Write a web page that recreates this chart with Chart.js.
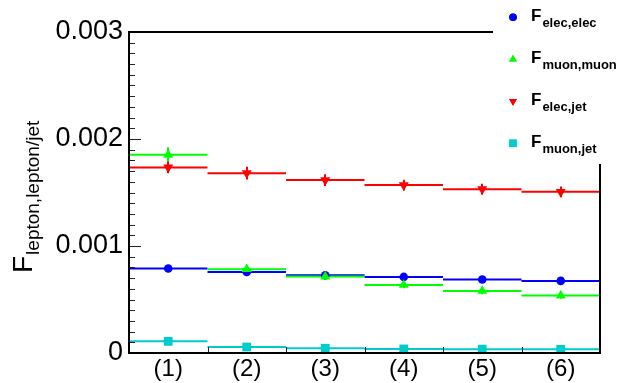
<!DOCTYPE html>
<html>
<head>
<meta charset="utf-8">
<script src="https://cdn.jsdelivr.net/npm/chart.js@4/dist/chart.umd.min.js"></script>
<style>
html,body{margin:0;padding:0;background:#fff;}
#wrap{width:626px;height:383px;position:relative;}
</style>
</head>
<body>
<div id="wrap"><canvas id="c" width="626" height="383"></canvas></div>
<script>
// ---- data ----
const categories = ['(1)', '(2)', '(3)', '(4)', '(5)', '(6)'];
const yTickValues = [0, 0.001, 0.002, 0.003];
const yTickLabels = ['0', '0.001', '0.002', '0.003'];
const seriesSubs = ['elec,elec', 'muon,muon', 'elec,jet', 'muon,jet'];
const elecElec = [0.00079, 0.000758, 0.000727, 0.000711, 0.000687, 0.000674];
const muonMuon = [0.001852, 0.000783, 0.000715, 0.000636, 0.00058, 0.000537];
const elecJet  = [0.001734, 0.001681, 0.001616, 0.001569, 0.001531, 0.001506];
const muonJet  = [0.000109, 0.000056, 0.000044, 0.000038, 0.000036, 0.000035];
const elecElecErr = [0.00002, 0.00002, 0.00002, 0.00002, 0.00002, 0.00002];
const muonMuonErr = [0.00007, 0.00004, 0.00003, 0.00003, 0.00003, 0.00003];
const elecJetErr  = [0.000055, 0.00006, 0.000055, 0.00005, 0.00005, 0.00005];
const muonJetErr  = [0.00001, 0.00001, 0.00001, 0.00001, 0.00001, 0.00001];

const FONT = '"Liberation Sans", Arial, Helvetica, sans-serif';
const series = [
  {vals: elecElec, err: elecElecErr, color: '#0000ff', style: 'circle', r: 4.3, rot: 0, lr: 3.8},
  {vals: muonMuon, err: muonMuonErr, color: '#00ff00', style: 'triangle', r: 5.8, rot: 0, lr: 4.5},
  {vals: elecJet,  err: elecJetErr,  color: '#ff0000', style: 'triangle', r: 5.8, rot: 180, lr: 4.5},
  {vals: muonJet,  err: muonJetErr,  color: '#00cccc', style: 'rect', r: 6.2, rot: 0, lr: 5.3}
];

const datasets = [];
series.forEach((s, k) => {
  const seg = [];
  s.vals.forEach((v, i) => { seg.push({x: i, y: v}, {x: i + 1, y: v}, {x: i + 1, y: null}); });
  datasets.push({type: 'line', data: seg, borderColor: s.color, borderWidth: 2, pointRadius: 0,
    spanGaps: false, fill: false, order: 20 - k, tension: 0});
  datasets.push({type: 'scatter', data: s.vals.map((v, i) => ({x: i + 0.5, y: v})),
    backgroundColor: s.color, borderColor: s.color, borderWidth: 0, pointStyle: s.style,
    pointRadius: s.r, pointRotation: s.rot, pointHoverRadius: s.r, showLine: false, order: 10 - k});
});

const rootPlugin = {
  id: 'rootDecor',
  beforeDatasetsDraw(chart) {
    const ctx = chart.ctx, xs = chart.scales.x, ys = chart.scales.y;
    ctx.save();
    series.forEach(s => {
      ctx.strokeStyle = s.color; ctx.lineWidth = 2;
      s.vals.forEach((v, i) => {
        const px = Math.round(xs.getPixelForValue(i + 0.5));
        ctx.beginPath();
        ctx.moveTo(px, ys.getPixelForValue(v - s.err[i]));
        ctx.lineTo(px, ys.getPixelForValue(v + s.err[i]));
        ctx.stroke();
      });
    });
    ctx.restore();
  },
  afterDraw(chart) {
    const ctx = chart.ctx, xs = chart.scales.x, ys = chart.scales.y;
    const a = chart.chartArea;
    ctx.save();
    // ticks
    ctx.strokeStyle = '#222'; ctx.lineWidth = 1;
    for (let k = 0; k <= 30; k++) {
      const v = k * 0.0001;
      const py = Math.round(ys.getPixelForValue(v)) + 0.5;
      const len = (k % 10 === 0) ? 12 : 6;
      ctx.beginPath(); ctx.moveTo(a.left, py); ctx.lineTo(a.left + len, py); ctx.stroke();
    }
    for (let i = 1; i < categories.length; i++) {
      const px = Math.round(xs.getPixelForValue(i)) + 0.5;
      ctx.beginPath(); ctx.moveTo(px, a.bottom); ctx.lineTo(px, a.bottom - 6); ctx.stroke();
    }
    // frame
    ctx.strokeStyle = '#000'; ctx.lineWidth = 2;
    ctx.beginPath();
    ctx.moveTo(a.left, a.top); ctx.lineTo(a.right, a.top); ctx.lineTo(a.right, a.bottom);
    ctx.lineTo(a.left, a.bottom); ctx.closePath(); ctx.stroke();
    // legend box (white, covers frame)
    ctx.fillStyle = '#fff';
    ctx.fillRect(493, 0, 626 - 493, 164);
    series.forEach((s, k) => {
      const cy = 17.3 + k * 42;
      ctx.fillStyle = s.color;
      Chart.helpers.drawPoint(ctx, {pointStyle: s.style, radius: s.lr, rotation: s.rot, borderWidth: 0},
        513, cy);
      ctx.fill();
      ctx.fillStyle = '#000';
      ctx.textBaseline = 'alphabetic'; ctx.textAlign = 'left';
      ctx.font = 'bold 17px ' + FONT;
      ctx.fillText('F', 531, cy + 3.7);
      const w = ctx.measureText('F').width;
      ctx.font = 'bold 13px ' + FONT;
      ctx.fillText(seriesSubs[k], 531 + w + 1, cy + 9.5);
    });
    // y title
    ctx.translate(32, 273);
    ctx.rotate(-Math.PI / 2);
    ctx.fillStyle = '#000';
    ctx.font = '28px ' + FONT;
    ctx.textAlign = 'left'; ctx.textBaseline = 'alphabetic';
    ctx.fillText('F', 0, 0);
    const fw = ctx.measureText('F').width;
    ctx.font = '19px ' + FONT;
    ctx.fillText('lepton,lepton/jet', fw + 1, 7);
    ctx.restore();
  }
};

new Chart(document.getElementById('c'), {
  data: {datasets},
  options: {
    responsive: false,
    animation: false,
    events: [],
    layout: {padding: {left: 0, top: 32, right: 26, bottom: 0}},
    plugins: {legend: {display: false}, tooltip: {enabled: false}},
    scales: {
      x: {
        type: 'linear', min: 0, max: categories.length,
        grid: {display: false, drawTicks: false}, border: {display: false},
        afterBuildTicks: sc => { sc.ticks = categories.map((c, i) => ({value: i + 0.5})); },
        afterFit: sc => { sc.height = 30; },
        ticks: {
          autoSkip: false, maxRotation: 0, padding: 2, color: '#000',
          font: {family: FONT, size: 24},
          callback: (v, i) => categories[i]
        }
      },
      y: {
        type: 'linear', min: 0, max: 0.003,
        grid: {display: false, drawTicks: false}, border: {display: false},
        afterBuildTicks: sc => { sc.ticks = yTickValues.map(v => ({value: v})); },
        afterFit: sc => { sc.width = 129; },
        ticks: {
          padding: 6, color: '#000',
          font: {family: FONT, size: 27},
          callback: (v, i) => yTickLabels[i]
        }
      }
    }
  },
  plugins: [rootPlugin]
});
</script>
</body>
</html>
